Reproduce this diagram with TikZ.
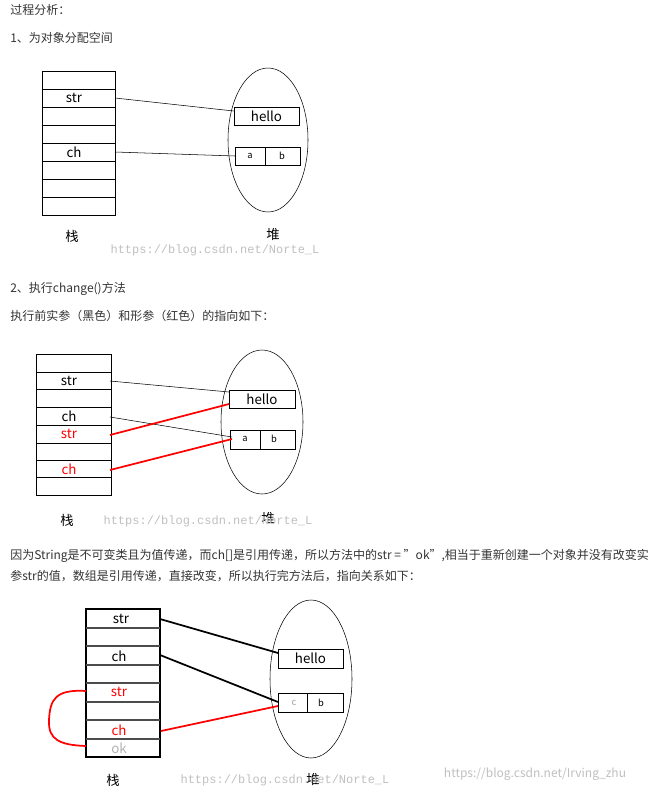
\documentclass[tikz,border=0pt]{standalone}
\usepackage{fontspec}
\setmainfont{Noto Sans CJK SC}
\newfontfamily\wmfont{Liberation Mono}
\usetikzlibrary{positioning}
\tikzset{
  txt/.style={anchor=west, inner sep=0pt, font=\fontsize{9}{11}\selectfont, text=black!80},
  lbl/.style={inner sep=0pt, font=\fontsize{10}{12}\selectfont},
  cell/.style={inner sep=0pt, font=\fontsize{10}{12}\selectfont},
  small/.style={inner sep=0pt, font=\fontsize{7}{8}\selectfont},
  wm/.style={inner sep=0pt, font=\wmfont\fontsize{9}{10}\selectfont, text=black!25},
  heapbox/.style={draw, semithick},
  thin link/.style={draw, thin},
  red link/.style={draw, red, line width=1.3pt},
  bold link/.style={draw, line width=1.3pt}
}
\begin{document}
\begin{tikzpicture}[x=0.75pt, y=-0.75pt]
    \useasboundingbox (0,0) rectangle (653,793);

    % Texts
    \node[txt] (t1) at (10,10) {过程分析：};
    \node[txt] (t2) at (10,38) {1、为对象分配空间};
    \node[txt] (t3) at (10,289) {2、执行change()方法};
    \node[txt] (t4) at (10,316) {执行前实参（黑色）和形参（红色）的指向如下：};
    \node[txt] (t5) at (10,556) {因为String是不可变类且为值传递，而ch[]是引用传递，所以方法中的str = \symbol{34}ok\symbol{34},相当于重新创建一个对象并没有改变实};
    \node[txt] (t6) at (10,576) {参str的值，数组是引用传递，直接改变，所以执行完方法后，指向关系如下：};

    % Diagram 1
    \draw (42,71) rectangle (115,215);
    \foreach \y in {89,107,125,143,161,179,197} \draw (42,\y) -- (115,\y);
    \node[cell] (as) at (74,98) {str};
    \node[cell] (ac) at (74,152) {ch};
    \coordinate (asr) at (115,98);
    \coordinate (acr) at (115,152);
    \draw (268,140) ellipse (40 and 72);
    \node[heapbox, minimum width=48.75pt, minimum height=13.5pt, inner sep=0pt, cell] (ah) at (266.5,116) {hello};
    \draw[heapbox] (235,147) rectangle (300,165);
    \draw[semithick] (265,147) -- (265,165);
    \node[small] (aa) at (250,156) {a};
    \node[small] (ab) at (282,156) {b};
    \draw[thin link] (asr) -- (ah.west |- 0,111);
    \draw[thin link] (acr) -- (235,156);
    \node[lbl] (az) at (72,236) {栈};
    \node[lbl] (ad) at (273,234) {堆};
    \node[wm] (aw) at (215,250) {https://blog.csdn.net/Norte\_L};

    % Diagram 2
    \draw (36,354) rectangle (111,495);
    \foreach \y in {372,389,407,425,443,460,477} \draw (36,\y) -- (111,\y);
    \node[cell] (bs) at (69,381) {str};
    \node[cell] (bc) at (69,416) {ch};
    \node[cell, text=red] (brs) at (69,434) {str};
    \node[cell, text=red] (brc) at (69,469) {ch};
    \draw (262,422) ellipse (41 and 72);
    \node[heapbox, minimum width=49.5pt, minimum height=13.5pt, inner sep=0pt, cell] (bh) at (262,399) {hello};
    \draw[heapbox] (230,430) rectangle (295,449);
    \draw[semithick] (260,430) -- (260,449);
    \node[small] (ba) at (245,439) {a};
    \node[small] (bb) at (274,439) {b};
    \draw[thin link] (110,381) -- (229,392);
    \draw[thin link] (110,417) -- (232,437);
    \draw[red link] (110,435) -- (229,404);
    \draw[red link] (110,470) -- (232,439);
    \node[lbl] (bz) at (67,520) {栈};
    \node[lbl] (bd) at (268,518) {堆};
    \node[wm] (bw) at (208,521) {https://blog.csdn.net/Norte\_L};

    % Diagram 3
    \draw[thick] (86,609) rectangle (160,757);
    \foreach \y in {628,646,665,683,702,720,739} \draw[thick, black!70] (86,\y) -- (160,\y);
    \node[cell] (cs) at (121,619) {str};
    \node[cell] (cc) at (119,656) {ch};
    \node[cell, text=red] (crs) at (119,692) {str};
    \node[cell, text=red] (crc) at (119,730) {ch};
    \node[cell, text=black!30] (cok) at (119,748) {ok};
    \draw (311,679) ellipse (41 and 79);
    \node[heapbox, minimum width=48.75pt, minimum height=14.25pt, inner sep=0pt, cell] (ch) at (310.5,658.5) {hello};
    \draw[heapbox] (278,693) rectangle (343,712);
    \draw[semithick] (307,693) -- (307,712);
    \node[small, text=black!35] (cca) at (294,703) {c};
    \node[small] (ccb) at (321,703) {b};
    \draw[bold link] (160,619) -- (278,653);
    \draw[bold link] (160,655) -- (278,702);
    \draw[red link] (161,731) -- (278,706);
    \draw[red link] (86,691) .. controls (55,689) and (50,700) .. (49,720) .. controls (48,740) and (60,745) .. (86,746);
    \node[lbl] (cz) at (113,780) {栈};
    \node[lbl] (cd) at (313,779) {堆};
    \node[wm] (cw) at (285,780) {https://blog.csdn.net/Norte\_L};
    \node[inner sep=0pt, font=\fontsize{9}{10}\selectfont, text=black!25] (cw2) at (535,774) {https://blog.csdn.net/Irving\_zhu};
\end{tikzpicture}
\end{document}
